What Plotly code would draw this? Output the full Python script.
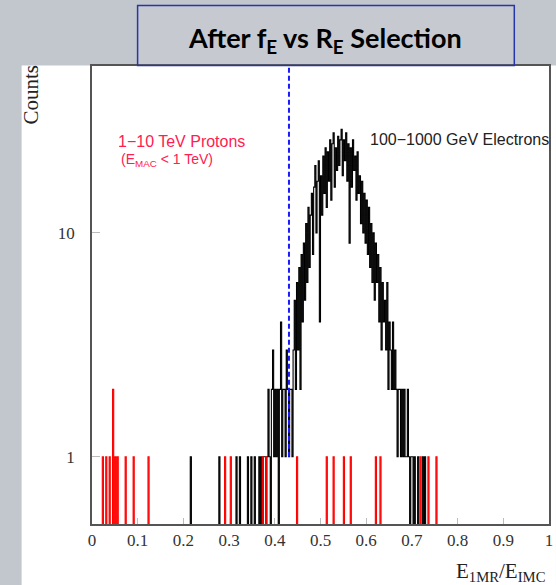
import plotly.graph_objects as go

# ---------------- data ----------------
BIN_W = 0.0025
N_BINS = 400

# dense electron core, bins starting at 0.365 (step BIN_W)
electron_core_start = 0.365
electron_core_counts = [
    1, 0, 1, 0, 1, 1, 0, 1, 2, 1,
    0, 2, 3, 1, 2, 1, 2, 0, 2, 4,
    1, 2, 2, 1, 3, 2, 1, 2, 2, 1,
    3, 5, 2, 6, 3, 7, 2, 8, 4, 9,
    5, 11, 6, 13, 7, 12, 15, 8, 16, 20,
    10, 17, 21, 4, 18, 12, 22, 15, 24, 13,
    23, 17, 26, 14, 25, 28, 16, 24, 19, 27,
    20, 26, 29, 18, 26, 21, 28, 17, 25, 9,
    24, 16, 26, 19, 22, 14, 23, 15, 18, 11,
    17, 10, 15, 9, 14, 8, 13, 7, 11, 6,
    10, 5, 9, 6, 8, 4, 7, 3, 6, 4,
    5, 3, 6, 2, 4, 3, 2, 4, 2, 3,
    2, 1, 2, 2, 1, 2, 1, 2, 1, 1,
    2, 1, 0, 1, 1, 0, 1, 0, 0, 1,
    0, 0, 0, 1, 0, 1,
]
# isolated electron entries in the low tail
electron_tail_x = [0.215, 0.2775, 0.315, 0.3225, 0.34, 0.3475, 0.355]
electron_tail_counts = [1, 1, 1, 1, 1, 1, 1]

# proton entries
proton_x = [0.0225, 0.03, 0.0375, 0.045, 0.05, 0.055, 0.0725, 0.09, 0.1225,
            0.29, 0.3025, 0.3725, 0.38, 0.4475, 0.5125, 0.5275, 0.55, 0.565,
            0.62, 0.63, 0.7175, 0.735, 0.7525]
proton_counts = [1, 1, 1, 2, 1, 1, 1, 1, 1,
                 1, 1, 1, 1, 1, 1, 1, 1, 1,
                 1, 1, 1, 1, 1]

cut_value = 0.431
x_ticks = [0, 0.1, 0.2, 0.3, 0.4, 0.5, 0.6, 0.7, 0.8, 0.9, 1.0]
x_ticktext = ["0", "0.1", "0.2", "0.3", "0.4", "0.5", "0.6", "0.7", "0.8", "0.9", "1"]
y_ticks = [1, 10]
y_ticktext = ["1", "10"]

# ---------------- helpers ----------------
FLOOR = 0.05


def step_arrays(positions, counts):
    c = [0] * N_BINS
    for p, n in zip(positions, counts):
        c[int(round(p / BIN_W))] += n
    edges = [i * BIN_W for i in range(N_BINS + 1)]
    ys = [v if v > 0 else FLOOR for v in c]
    ys.append(ys[-1])
    return edges, ys


e_pos = electron_tail_x + [electron_core_start + i * BIN_W for i in range(len(electron_core_counts))]
e_cnt = electron_tail_counts + electron_core_counts
ex, ey = step_arrays(e_pos, e_cnt)
px_, py_ = step_arrays(proton_x, proton_counts)

fig = go.Figure()
fig.add_trace(go.Scatter(x=ex, y=ey, mode="lines", line=dict(color="black", width=1.1, shape="hv"),
                         hoverinfo="skip", showlegend=False))
fig.add_trace(go.Scatter(x=px_, y=py_, mode="lines", line=dict(color="#ff0000", width=1.1, shape="hv"),
                         hoverinfo="skip", showlegend=False))
fig.add_trace(go.Scatter(x=[cut_value, cut_value], y=[1, 200], mode="lines",
                         line=dict(color="#1a1aff", width=2, dash="5px,3px"),
                         hoverinfo="skip", showlegend=False))

W, H = 556, 585
L, R, T, B = 92, 3, 66, 61
pw, ph = W - L - R, H - T - B


def px2x(px):
    return (px - L) / pw


def py2y(py):
    return (H - B - py) / ph


shapes = [
    # white slide panel
    dict(type="rect", xref="paper", yref="paper", layer="below",
         x0=px2x(21), x1=px2x(560), y0=py2y(590), y1=py2y(65.5),
         fillcolor="white", line=dict(width=0)),
    # title box
    dict(type="rect", xref="paper", yref="paper",
         x0=px2x(138), x1=px2x(518), y0=py2y(65.5), y1=py2y(5.5),
         fillcolor="rgba(255,255,255,0.08)", line=dict(color="#2536a8", width=1.5)),
]

annotations = [
    dict(text="<b>After f<sub>E</sub> vs R<sub>E</sub> Selection</b>", xref="paper", yref="paper",
         x=px2x(327), y=py2y(40), xanchor="center", yanchor="middle", showarrow=False,
         font=dict(family="Lato, Open Sans, sans-serif", size=27, color="black")),
    dict(text="Counts", xref="paper", yref="paper", x=px2x(30), y=py2y(95), textangle=-90,
         xanchor="center", yanchor="middle", showarrow=False,
         font=dict(family="Liberation Serif, serif", size=21, color="#222")),
    dict(text="E<sub>1MR</sub>/E<sub>IMC</sub>", xref="paper", yref="paper", x=px2x(551), y=py2y(572),
         xanchor="right", yanchor="middle", showarrow=False,
         font=dict(family="Liberation Serif, serif", size=21, color="#222")),
    dict(text="1\u221210 TeV Protons", xref="paper", yref="paper", x=px2x(116), y=py2y(141),
         xanchor="left", yanchor="middle", showarrow=False,
         font=dict(family="Liberation Sans, Arial, sans-serif", size=16, color="#ff2050")),
    dict(text="(E<sub>MAC</sub> &lt; 1 TeV)", xref="paper", yref="paper", x=px2x(119), y=py2y(160),
         xanchor="left", yanchor="middle", showarrow=False,
         font=dict(family="Liberation Sans, Arial, sans-serif", size=14, color="#ff2050")),
    dict(text="100\u22121000 GeV Electrons", xref="paper", yref="paper", x=px2x(370), y=py2y(139),
         xanchor="left", yanchor="middle", showarrow=False,
         font=dict(family="Liberation Sans, Arial, sans-serif", size=16, color="#222")),
]

fig.update_layout(
    width=W, height=H, autosize=False,
    margin=dict(l=L, r=R, t=T, b=B, pad=0),
    paper_bgcolor="#c2c6cd", plot_bgcolor="white",
    shapes=shapes, annotations=annotations,
    xaxis=dict(range=[0, 1], tickvals=x_ticks, ticktext=x_ticktext, ticks="inside", ticklen=6,
               tickcolor="#bbbbbb", showgrid=False, zeroline=False, showline=True, mirror=True,
               linecolor="#555555", linewidth=1.5,
               tickfont=dict(family="Liberation Serif, serif", size=17, color="#333")),
    yaxis=dict(type="log", range=[-0.30, 1.745], tickvals=y_ticks, ticktext=y_ticktext,
               ticks="inside", ticklen=8, tickcolor="#bbbbbb", showgrid=False, zeroline=False,
               showline=True, mirror=True, linecolor="#555555", linewidth=1.5,
               ticklabelstandoff=12,
               tickfont=dict(family="Liberation Serif, serif", size=17, color="#333")),
)

fig.write_html("out.html")
